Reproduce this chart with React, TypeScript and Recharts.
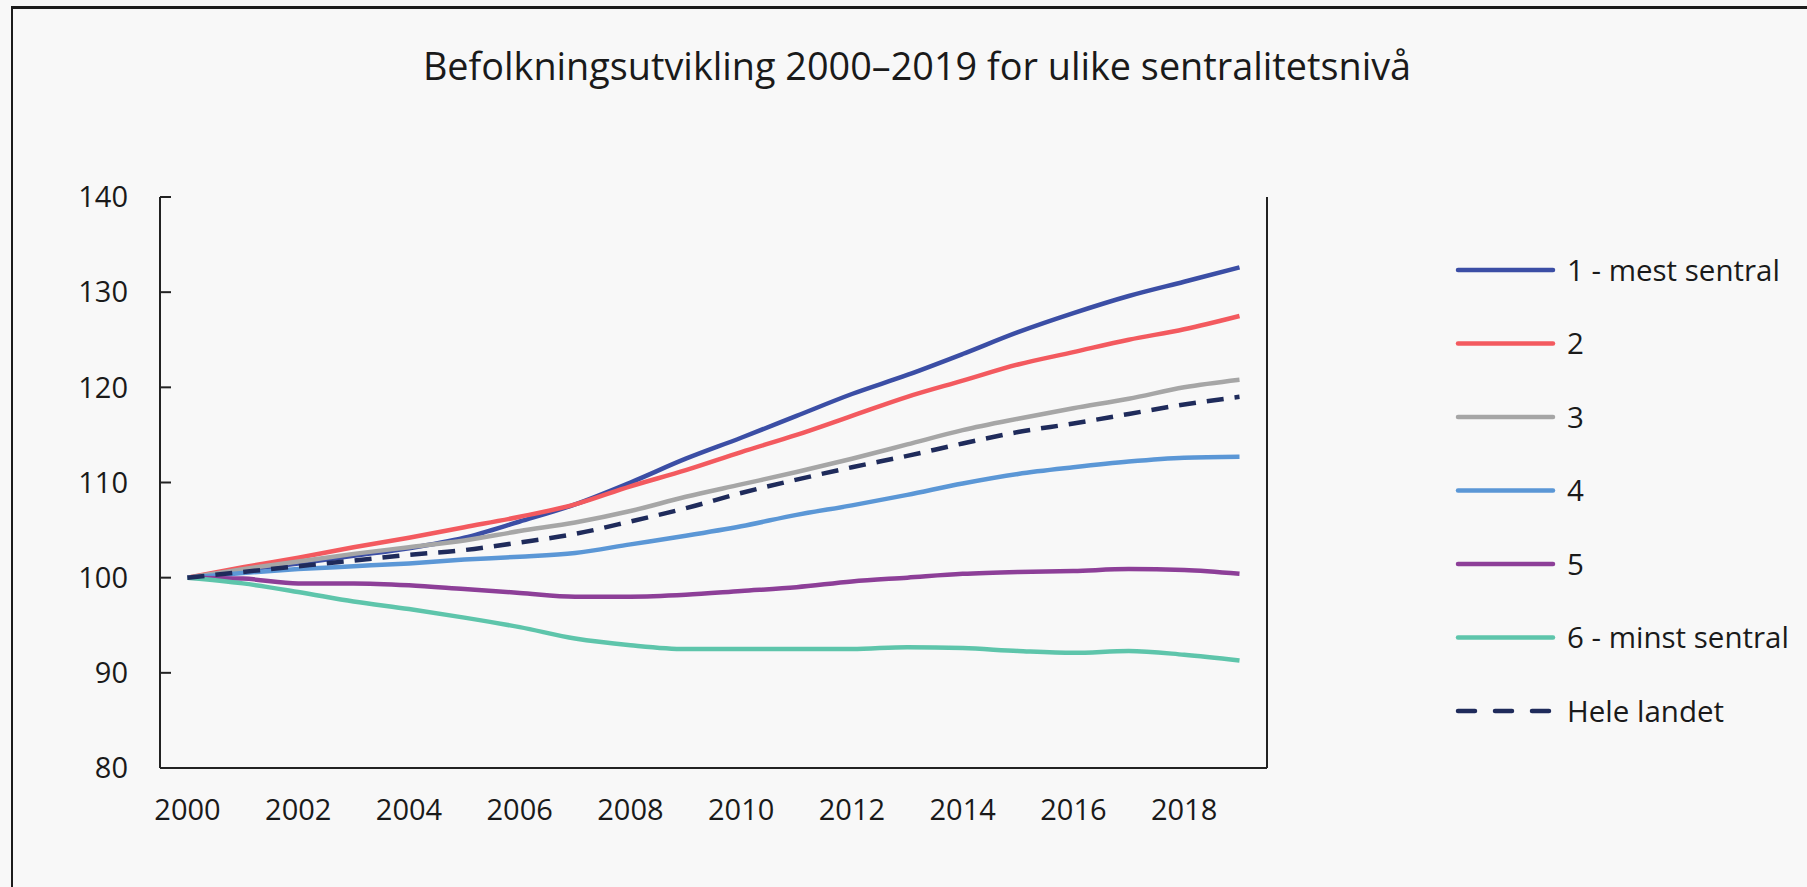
import React from 'react';
import { LineChart, Line, XAxis, YAxis } from 'recharts';

const years = [2000, 2001, 2002, 2003, 2004, 2005, 2006, 2007, 2008, 2009, 2010, 2011, 2012, 2013, 2014, 2015, 2016, 2017, 2018, 2019];

const mestSentral = [100, 100.8, 101.5, 102.3, 103.1, 104.2, 105.9, 107.7, 110.0, 112.5, 114.7, 117.0, 119.3, 121.3, 123.5, 125.8, 127.8, 129.6, 131.1, 132.6];
const niva2 = [100, 101.1, 102.1, 103.2, 104.2, 105.3, 106.4, 107.7, 109.6, 111.3, 113.2, 115.0, 117.0, 119.0, 120.7, 122.4, 123.7, 125.0, 126.1, 127.5];
const niva3 = [100, 100.9, 101.7, 102.5, 103.2, 103.9, 104.9, 105.8, 107.0, 108.5, 109.8, 111.1, 112.5, 114.0, 115.5, 116.7, 117.8, 118.8, 120.0, 120.8];
const niva4 = [100, 100.5, 100.9, 101.2, 101.5, 101.9, 102.2, 102.6, 103.5, 104.4, 105.4, 106.6, 107.6, 108.7, 109.9, 110.9, 111.6, 112.2, 112.6, 112.7];
const niva5 = [100, 99.9, 99.4, 99.4, 99.2, 98.8, 98.4, 98.0, 98.0, 98.2, 98.6, 99.0, 99.6, 100.0, 100.4, 100.6, 100.7, 100.9, 100.8, 100.4];
const minstSentral = [100, 99.4, 98.5, 97.5, 96.7, 95.8, 94.8, 93.6, 92.9, 92.5, 92.5, 92.5, 92.5, 92.7, 92.6, 92.3, 92.1, 92.3, 91.9, 91.3];
const heleLandet = [100, 100.6, 101.2, 101.8, 102.4, 102.9, 103.7, 104.6, 105.9, 107.3, 108.9, 110.3, 111.6, 112.8, 114.1, 115.3, 116.2, 117.2, 118.2, 119.0];

const yTicks = [80, 90, 100, 110, 120, 130, 140];

const series = [
  { key: 's1', name: '1 - mest sentral', values: mestSentral, color: '#3b4ea5', dash: undefined },
  { key: 's2', name: '2', values: niva2, color: '#f35a5f', dash: undefined },
  { key: 's3', name: '3', values: niva3, color: '#a6a6a6', dash: undefined },
  { key: 's4', name: '4', values: niva4, color: '#5b97d6', dash: undefined },
  { key: 's5', name: '5', values: niva5, color: '#8d3f98', dash: undefined },
  { key: 's6', name: '6 - minst sentral', values: minstSentral, color: '#5ec5ab', dash: undefined },
  { key: 'hele', name: 'Hele landet', values: heleLandet, color: '#1f2b5b', dash: '17 11' },
];

const data = years.map((year, i) => {
  const row: Record<string, number> = { year };
  series.forEach((s) => {
    row[s.key] = s.values[i];
  });
  return row;
});

const FONT = "'Open Sans', sans-serif";
const tickStyle = { fontSize: 29, fill: '#1a1a1a', fontFamily: FONT };

const App = () => {
  return (
    <div
      style={{
        position: 'absolute',
        left: 0,
        top: 0,
        width: 1807,
        height: 887,
        background: '#f8f8f8',
        overflow: 'hidden',
        fontFamily: FONT,
      }}
    >
      {/* frame */}
      <div
        style={{
          position: 'absolute',
          left: 11,
          top: 6,
          width: 1820,
          height: 900,
          borderTop: '3px solid #1c1c1c',
          borderLeft: '2px solid #1c1c1c',
          boxSizing: 'border-box',
        }}
      />
      <div
        style={{
          position: 'absolute',
          left: 217,
          top: 47,
          width: 1400,
          textAlign: 'center',
          fontSize: 37.8,
          lineHeight: 1,
          color: '#1a1a1a',
        }}
      >
        Befolkningsutvikling 2000–2019 for ulike sentralitetsnivå
      </div>

      <div style={{ position: 'absolute', left: 0, top: 0 }}>
        <LineChart width={1807} height={887} data={data} margin={{ top: 197, right: 440, bottom: 59, left: 60 }}>
          <XAxis
            dataKey="year"
            type="category"
            interval={1}
            padding={{ left: 27.5, right: 27.5 }}
            tickLine={false}
            tickSize={0}
            tickMargin={31}
            height={60}
            axisLine={{ stroke: '#222', strokeWidth: 2 }}
            tick={tickStyle}
          />
          <YAxis
            yAxisId="left"
            orientation="left"
            domain={[80, 140]}
            ticks={yTicks}
            width={100}
            tickSize={-11}
            tickMargin={43}
            axisLine={{ stroke: '#222', strokeWidth: 2 }}
            tickLine={{ stroke: '#222', strokeWidth: 2 }}
            tick={tickStyle}
          />
          <YAxis
            yAxisId="right"
            orientation="right"
            domain={[80, 140]}
            ticks={yTicks}
            width={100}
            tickSize={-11}
            tickMargin={44}
            axisLine={{ stroke: '#222', strokeWidth: 2 }}
            tickLine={{ stroke: '#222', strokeWidth: 2 }}
            tick={{ ...tickStyle, textAnchor: 'start' }}
          />
          {series.map((s) => (
            <Line
              key={s.key}
              yAxisId="left"
              type="monotone"
              dataKey={s.key}
              name={s.name}
              stroke={s.color}
              strokeWidth={4.5}
              strokeDasharray={s.dash}
              dot={false}
              activeDot={false}
              isAnimationActive={false}
            />
          ))}
        </LineChart>
      </div>

      {/* legend */}
      <svg style={{ position: 'absolute', left: 0, top: 0 }} width={1807} height={887}>
        {series.map((s, i) => {
          const y = 270 + i * 73.5;
          return (
            <g key={s.key}>
              <line
                x1={1458}
                x2={1553}
                y1={y}
                y2={y}
                stroke={s.color}
                strokeWidth={4.5}
                strokeLinecap="round"
                strokeDasharray={s.dash ? '17 20' : undefined}
              />
              <text x={1567} y={y + 10.5} fontSize={29.5} fill="#1a1a1a" fontFamily={FONT}>
                {s.name}
              </text>
            </g>
          );
        })}
      </svg>
    </div>
  );
};

export default App;
